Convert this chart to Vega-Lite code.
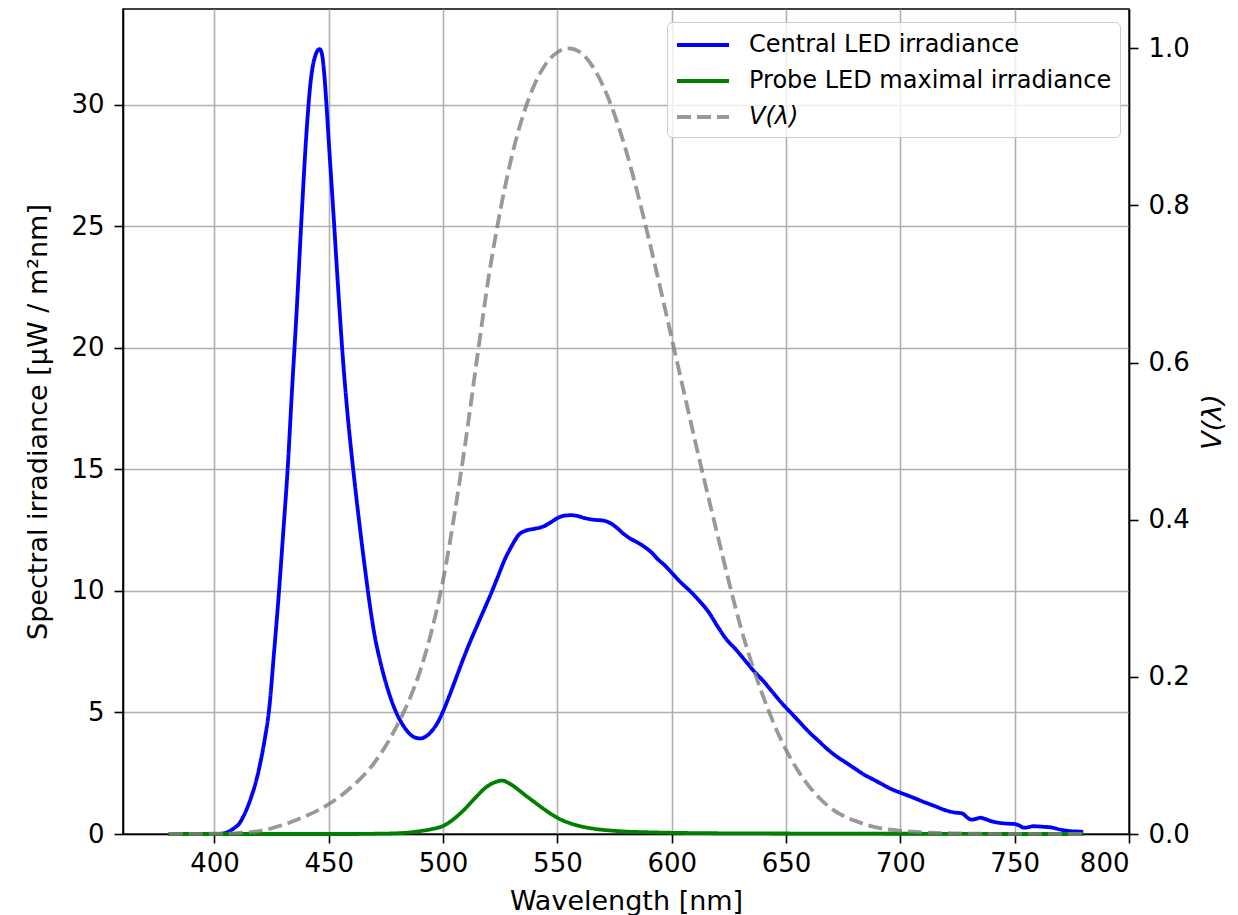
{
  "$schema": "https://vega.github.io/schema/vega-lite/v6.json",
  "width": 1006,
  "height": 825,
  "autosize": {"type": "none"},
  "padding": {"left": 123, "top": 9, "right": 109, "bottom": 81},
  "background": "white",
  "config": {
    "font": "DejaVu Sans",
    "view": {"stroke": "black", "strokeWidth": 1.6},
    "axis": {
      "domainColor": "black",
      "domainWidth": 1.6,
      "tickColor": "black",
      "tickWidth": 1.6,
      "tickSize": 9,
      "labelFontSize": 26,
      "labelColor": "black",
      "labelPadding": 7,
      "titleFontSize": 27,
      "titleFontWeight": "normal",
      "titleColor": "black",
      "gridColor": "#b0b0b0",
      "gridWidth": 1.6
    },
    "legend": {
      "orient": "none",
      "legendX": 544,
      "legendY": 13,
      "title": null,
      "symbolType": "M-1,0H3",
      "symbolSize": 676,
      "symbolStrokeWidth": 3.8,
      "labelFontSize": 24,
      "labelColor": "black",
      "labelOffset": 44,
      "rowPadding": 9,
      "padding": 8,
      "strokeColor": "#cccccc",
      "fillColor": "rgba(255,255,255,0.8)",
      "cornerRadius": 5,
      "labelLimit": 500
    }
  },
  "datasets": {
    "irr": [
      {"wavelength": 380, "value": 0.0, "series": "Central LED irradiance"},
      {"wavelength": 390, "value": 0.0, "series": "Central LED irradiance"},
      {"wavelength": 400, "value": 0.0, "series": "Central LED irradiance"},
      {"wavelength": 403, "value": 0.01, "series": "Central LED irradiance"},
      {"wavelength": 405, "value": 0.05, "series": "Central LED irradiance"},
      {"wavelength": 408, "value": 0.2, "series": "Central LED irradiance"},
      {"wavelength": 411, "value": 0.45, "series": "Central LED irradiance"},
      {"wavelength": 414, "value": 1.0, "series": "Central LED irradiance"},
      {"wavelength": 416, "value": 1.5, "series": "Central LED irradiance"},
      {"wavelength": 418, "value": 2.1, "series": "Central LED irradiance"},
      {"wavelength": 420, "value": 2.9, "series": "Central LED irradiance"},
      {"wavelength": 422, "value": 3.9, "series": "Central LED irradiance"},
      {"wavelength": 424, "value": 5.2, "series": "Central LED irradiance"},
      {"wavelength": 426, "value": 7.4, "series": "Central LED irradiance"},
      {"wavelength": 428, "value": 9.7, "series": "Central LED irradiance"},
      {"wavelength": 430, "value": 12.3, "series": "Central LED irradiance"},
      {"wavelength": 432, "value": 15.0, "series": "Central LED irradiance"},
      {"wavelength": 434, "value": 18.4, "series": "Central LED irradiance"},
      {"wavelength": 436, "value": 21.6, "series": "Central LED irradiance"},
      {"wavelength": 438, "value": 25.2, "series": "Central LED irradiance"},
      {"wavelength": 440, "value": 28.5, "series": "Central LED irradiance"},
      {"wavelength": 442, "value": 30.9, "series": "Central LED irradiance"},
      {"wavelength": 444, "value": 32.0, "series": "Central LED irradiance"},
      {"wavelength": 446, "value": 32.3, "series": "Central LED irradiance"},
      {"wavelength": 447, "value": 32.1, "series": "Central LED irradiance"},
      {"wavelength": 448, "value": 31.3, "series": "Central LED irradiance"},
      {"wavelength": 449, "value": 30.0, "series": "Central LED irradiance"},
      {"wavelength": 450, "value": 28.5, "series": "Central LED irradiance"},
      {"wavelength": 452, "value": 25.6, "series": "Central LED irradiance"},
      {"wavelength": 454, "value": 22.6, "series": "Central LED irradiance"},
      {"wavelength": 456, "value": 19.8, "series": "Central LED irradiance"},
      {"wavelength": 458, "value": 17.5, "series": "Central LED irradiance"},
      {"wavelength": 460, "value": 15.6, "series": "Central LED irradiance"},
      {"wavelength": 462, "value": 13.9, "series": "Central LED irradiance"},
      {"wavelength": 464, "value": 12.3, "series": "Central LED irradiance"},
      {"wavelength": 466, "value": 10.8, "series": "Central LED irradiance"},
      {"wavelength": 468, "value": 9.4, "series": "Central LED irradiance"},
      {"wavelength": 470, "value": 8.2, "series": "Central LED irradiance"},
      {"wavelength": 472, "value": 7.3, "series": "Central LED irradiance"},
      {"wavelength": 474, "value": 6.55, "series": "Central LED irradiance"},
      {"wavelength": 476, "value": 5.9, "series": "Central LED irradiance"},
      {"wavelength": 478, "value": 5.35, "series": "Central LED irradiance"},
      {"wavelength": 480, "value": 4.9, "series": "Central LED irradiance"},
      {"wavelength": 482, "value": 4.55, "series": "Central LED irradiance"},
      {"wavelength": 484, "value": 4.27, "series": "Central LED irradiance"},
      {"wavelength": 486, "value": 4.07, "series": "Central LED irradiance"},
      {"wavelength": 488, "value": 3.96, "series": "Central LED irradiance"},
      {"wavelength": 490, "value": 3.93, "series": "Central LED irradiance"},
      {"wavelength": 492, "value": 3.99, "series": "Central LED irradiance"},
      {"wavelength": 494, "value": 4.13, "series": "Central LED irradiance"},
      {"wavelength": 496, "value": 4.35, "series": "Central LED irradiance"},
      {"wavelength": 498, "value": 4.65, "series": "Central LED irradiance"},
      {"wavelength": 500, "value": 5.05, "series": "Central LED irradiance"},
      {"wavelength": 503, "value": 5.75, "series": "Central LED irradiance"},
      {"wavelength": 506, "value": 6.5, "series": "Central LED irradiance"},
      {"wavelength": 509, "value": 7.25, "series": "Central LED irradiance"},
      {"wavelength": 512, "value": 7.95, "series": "Central LED irradiance"},
      {"wavelength": 515, "value": 8.6, "series": "Central LED irradiance"},
      {"wavelength": 518, "value": 9.25, "series": "Central LED irradiance"},
      {"wavelength": 521, "value": 9.9, "series": "Central LED irradiance"},
      {"wavelength": 524, "value": 10.6, "series": "Central LED irradiance"},
      {"wavelength": 527, "value": 11.3, "series": "Central LED irradiance"},
      {"wavelength": 530, "value": 11.85, "series": "Central LED irradiance"},
      {"wavelength": 533, "value": 12.3, "series": "Central LED irradiance"},
      {"wavelength": 536, "value": 12.48, "series": "Central LED irradiance"},
      {"wavelength": 540, "value": 12.56, "series": "Central LED irradiance"},
      {"wavelength": 544, "value": 12.66, "series": "Central LED irradiance"},
      {"wavelength": 547, "value": 12.82, "series": "Central LED irradiance"},
      {"wavelength": 550, "value": 13.0, "series": "Central LED irradiance"},
      {"wavelength": 553, "value": 13.1, "series": "Central LED irradiance"},
      {"wavelength": 556, "value": 13.12, "series": "Central LED irradiance"},
      {"wavelength": 559, "value": 13.08, "series": "Central LED irradiance"},
      {"wavelength": 562, "value": 13.0, "series": "Central LED irradiance"},
      {"wavelength": 566, "value": 12.93, "series": "Central LED irradiance"},
      {"wavelength": 570, "value": 12.9, "series": "Central LED irradiance"},
      {"wavelength": 573, "value": 12.8, "series": "Central LED irradiance"},
      {"wavelength": 576, "value": 12.6, "series": "Central LED irradiance"},
      {"wavelength": 579, "value": 12.35, "series": "Central LED irradiance"},
      {"wavelength": 582, "value": 12.15, "series": "Central LED irradiance"},
      {"wavelength": 585, "value": 12.0, "series": "Central LED irradiance"},
      {"wavelength": 588, "value": 11.82, "series": "Central LED irradiance"},
      {"wavelength": 591, "value": 11.6, "series": "Central LED irradiance"},
      {"wavelength": 594, "value": 11.3, "series": "Central LED irradiance"},
      {"wavelength": 597, "value": 11.05, "series": "Central LED irradiance"},
      {"wavelength": 600, "value": 10.75, "series": "Central LED irradiance"},
      {"wavelength": 604, "value": 10.35, "series": "Central LED irradiance"},
      {"wavelength": 608, "value": 10.0, "series": "Central LED irradiance"},
      {"wavelength": 612, "value": 9.6, "series": "Central LED irradiance"},
      {"wavelength": 616, "value": 9.15, "series": "Central LED irradiance"},
      {"wavelength": 620, "value": 8.55, "series": "Central LED irradiance"},
      {"wavelength": 624, "value": 8.0, "series": "Central LED irradiance"},
      {"wavelength": 628, "value": 7.6, "series": "Central LED irradiance"},
      {"wavelength": 632, "value": 7.15, "series": "Central LED irradiance"},
      {"wavelength": 636, "value": 6.7, "series": "Central LED irradiance"},
      {"wavelength": 640, "value": 6.3, "series": "Central LED irradiance"},
      {"wavelength": 644, "value": 5.85, "series": "Central LED irradiance"},
      {"wavelength": 648, "value": 5.4, "series": "Central LED irradiance"},
      {"wavelength": 652, "value": 5.0, "series": "Central LED irradiance"},
      {"wavelength": 656, "value": 4.6, "series": "Central LED irradiance"},
      {"wavelength": 660, "value": 4.2, "series": "Central LED irradiance"},
      {"wavelength": 664, "value": 3.85, "series": "Central LED irradiance"},
      {"wavelength": 668, "value": 3.5, "series": "Central LED irradiance"},
      {"wavelength": 672, "value": 3.2, "series": "Central LED irradiance"},
      {"wavelength": 676, "value": 2.95, "series": "Central LED irradiance"},
      {"wavelength": 680, "value": 2.7, "series": "Central LED irradiance"},
      {"wavelength": 684, "value": 2.45, "series": "Central LED irradiance"},
      {"wavelength": 688, "value": 2.25, "series": "Central LED irradiance"},
      {"wavelength": 692, "value": 2.05, "series": "Central LED irradiance"},
      {"wavelength": 696, "value": 1.85, "series": "Central LED irradiance"},
      {"wavelength": 700, "value": 1.7, "series": "Central LED irradiance"},
      {"wavelength": 705, "value": 1.52, "series": "Central LED irradiance"},
      {"wavelength": 710, "value": 1.33, "series": "Central LED irradiance"},
      {"wavelength": 715, "value": 1.15, "series": "Central LED irradiance"},
      {"wavelength": 720, "value": 0.97, "series": "Central LED irradiance"},
      {"wavelength": 724, "value": 0.88, "series": "Central LED irradiance"},
      {"wavelength": 727, "value": 0.85, "series": "Central LED irradiance"},
      {"wavelength": 729, "value": 0.7, "series": "Central LED irradiance"},
      {"wavelength": 731, "value": 0.59, "series": "Central LED irradiance"},
      {"wavelength": 733, "value": 0.62, "series": "Central LED irradiance"},
      {"wavelength": 735, "value": 0.67, "series": "Central LED irradiance"},
      {"wavelength": 737, "value": 0.62, "series": "Central LED irradiance"},
      {"wavelength": 740, "value": 0.52, "series": "Central LED irradiance"},
      {"wavelength": 744, "value": 0.45, "series": "Central LED irradiance"},
      {"wavelength": 748, "value": 0.42, "series": "Central LED irradiance"},
      {"wavelength": 750, "value": 0.41, "series": "Central LED irradiance"},
      {"wavelength": 752, "value": 0.35, "series": "Central LED irradiance"},
      {"wavelength": 754, "value": 0.26, "series": "Central LED irradiance"},
      {"wavelength": 756, "value": 0.28, "series": "Central LED irradiance"},
      {"wavelength": 758, "value": 0.32, "series": "Central LED irradiance"},
      {"wavelength": 762, "value": 0.3, "series": "Central LED irradiance"},
      {"wavelength": 766, "value": 0.27, "series": "Central LED irradiance"},
      {"wavelength": 770, "value": 0.18, "series": "Central LED irradiance"},
      {"wavelength": 774, "value": 0.12, "series": "Central LED irradiance"},
      {"wavelength": 778, "value": 0.1, "series": "Central LED irradiance"},
      {"wavelength": 780, "value": 0.09, "series": "Central LED irradiance"},
      {"wavelength": 380, "value": 0.0, "series": "Probe LED maximal irradiance"},
      {"wavelength": 420, "value": 0.0, "series": "Probe LED maximal irradiance"},
      {"wavelength": 460, "value": 0.0, "series": "Probe LED maximal irradiance"},
      {"wavelength": 470, "value": 0.01, "series": "Probe LED maximal irradiance"},
      {"wavelength": 480, "value": 0.03, "series": "Probe LED maximal irradiance"},
      {"wavelength": 485, "value": 0.06, "series": "Probe LED maximal irradiance"},
      {"wavelength": 490, "value": 0.12, "series": "Probe LED maximal irradiance"},
      {"wavelength": 495, "value": 0.2, "series": "Probe LED maximal irradiance"},
      {"wavelength": 500, "value": 0.33, "series": "Probe LED maximal irradiance"},
      {"wavelength": 503, "value": 0.5, "series": "Probe LED maximal irradiance"},
      {"wavelength": 506, "value": 0.72, "series": "Probe LED maximal irradiance"},
      {"wavelength": 509, "value": 0.98, "series": "Probe LED maximal irradiance"},
      {"wavelength": 512, "value": 1.28, "series": "Probe LED maximal irradiance"},
      {"wavelength": 515, "value": 1.58, "series": "Probe LED maximal irradiance"},
      {"wavelength": 518, "value": 1.86, "series": "Probe LED maximal irradiance"},
      {"wavelength": 521, "value": 2.06, "series": "Probe LED maximal irradiance"},
      {"wavelength": 524, "value": 2.17, "series": "Probe LED maximal irradiance"},
      {"wavelength": 526, "value": 2.2, "series": "Probe LED maximal irradiance"},
      {"wavelength": 528, "value": 2.13, "series": "Probe LED maximal irradiance"},
      {"wavelength": 531, "value": 1.96, "series": "Probe LED maximal irradiance"},
      {"wavelength": 534, "value": 1.74, "series": "Probe LED maximal irradiance"},
      {"wavelength": 537, "value": 1.52, "series": "Probe LED maximal irradiance"},
      {"wavelength": 540, "value": 1.31, "series": "Probe LED maximal irradiance"},
      {"wavelength": 543, "value": 1.1, "series": "Probe LED maximal irradiance"},
      {"wavelength": 546, "value": 0.9, "series": "Probe LED maximal irradiance"},
      {"wavelength": 549, "value": 0.72, "series": "Probe LED maximal irradiance"},
      {"wavelength": 552, "value": 0.57, "series": "Probe LED maximal irradiance"},
      {"wavelength": 555, "value": 0.46, "series": "Probe LED maximal irradiance"},
      {"wavelength": 558, "value": 0.37, "series": "Probe LED maximal irradiance"},
      {"wavelength": 561, "value": 0.3, "series": "Probe LED maximal irradiance"},
      {"wavelength": 565, "value": 0.23, "series": "Probe LED maximal irradiance"},
      {"wavelength": 570, "value": 0.17, "series": "Probe LED maximal irradiance"},
      {"wavelength": 575, "value": 0.13, "series": "Probe LED maximal irradiance"},
      {"wavelength": 580, "value": 0.1, "series": "Probe LED maximal irradiance"},
      {"wavelength": 590, "value": 0.07, "series": "Probe LED maximal irradiance"},
      {"wavelength": 600, "value": 0.05, "series": "Probe LED maximal irradiance"},
      {"wavelength": 620, "value": 0.03, "series": "Probe LED maximal irradiance"},
      {"wavelength": 650, "value": 0.02, "series": "Probe LED maximal irradiance"},
      {"wavelength": 700, "value": 0.01, "series": "Probe LED maximal irradiance"},
      {"wavelength": 750, "value": 0.0, "series": "Probe LED maximal irradiance"},
      {"wavelength": 780, "value": 0.0, "series": "Probe LED maximal irradiance"}
    ],
    "vlambda": [
      {"wavelength": 380, "V": 0.000039, "series": "V(λ)"},
      {"wavelength": 385, "V": 0.000064, "series": "V(λ)"},
      {"wavelength": 390, "V": 0.00012, "series": "V(λ)"},
      {"wavelength": 395, "V": 0.000217, "series": "V(λ)"},
      {"wavelength": 400, "V": 0.000396, "series": "V(λ)"},
      {"wavelength": 405, "V": 0.00064, "series": "V(λ)"},
      {"wavelength": 410, "V": 0.00121, "series": "V(λ)"},
      {"wavelength": 415, "V": 0.00218, "series": "V(λ)"},
      {"wavelength": 420, "V": 0.004, "series": "V(λ)"},
      {"wavelength": 425, "V": 0.0073, "series": "V(λ)"},
      {"wavelength": 430, "V": 0.0116, "series": "V(λ)"},
      {"wavelength": 435, "V": 0.01684, "series": "V(λ)"},
      {"wavelength": 440, "V": 0.023, "series": "V(λ)"},
      {"wavelength": 445, "V": 0.0298, "series": "V(λ)"},
      {"wavelength": 450, "V": 0.038, "series": "V(λ)"},
      {"wavelength": 455, "V": 0.048, "series": "V(λ)"},
      {"wavelength": 460, "V": 0.06, "series": "V(λ)"},
      {"wavelength": 465, "V": 0.0739, "series": "V(λ)"},
      {"wavelength": 470, "V": 0.09098, "series": "V(λ)"},
      {"wavelength": 475, "V": 0.1126, "series": "V(λ)"},
      {"wavelength": 480, "V": 0.13902, "series": "V(λ)"},
      {"wavelength": 485, "V": 0.1693, "series": "V(λ)"},
      {"wavelength": 490, "V": 0.20802, "series": "V(λ)"},
      {"wavelength": 495, "V": 0.2586, "series": "V(λ)"},
      {"wavelength": 500, "V": 0.323, "series": "V(λ)"},
      {"wavelength": 505, "V": 0.4073, "series": "V(λ)"},
      {"wavelength": 510, "V": 0.503, "series": "V(λ)"},
      {"wavelength": 515, "V": 0.6082, "series": "V(λ)"},
      {"wavelength": 520, "V": 0.71, "series": "V(λ)"},
      {"wavelength": 525, "V": 0.7932, "series": "V(λ)"},
      {"wavelength": 530, "V": 0.862, "series": "V(λ)"},
      {"wavelength": 535, "V": 0.91485, "series": "V(λ)"},
      {"wavelength": 540, "V": 0.954, "series": "V(λ)"},
      {"wavelength": 545, "V": 0.9803, "series": "V(λ)"},
      {"wavelength": 550, "V": 0.99495, "series": "V(λ)"},
      {"wavelength": 555, "V": 1.0, "series": "V(λ)"},
      {"wavelength": 560, "V": 0.995, "series": "V(λ)"},
      {"wavelength": 565, "V": 0.9786, "series": "V(λ)"},
      {"wavelength": 570, "V": 0.952, "series": "V(λ)"},
      {"wavelength": 575, "V": 0.9154, "series": "V(λ)"},
      {"wavelength": 580, "V": 0.87, "series": "V(λ)"},
      {"wavelength": 585, "V": 0.8163, "series": "V(λ)"},
      {"wavelength": 590, "V": 0.757, "series": "V(λ)"},
      {"wavelength": 595, "V": 0.6949, "series": "V(λ)"},
      {"wavelength": 600, "V": 0.631, "series": "V(λ)"},
      {"wavelength": 605, "V": 0.5668, "series": "V(λ)"},
      {"wavelength": 610, "V": 0.503, "series": "V(λ)"},
      {"wavelength": 615, "V": 0.4412, "series": "V(λ)"},
      {"wavelength": 620, "V": 0.381, "series": "V(λ)"},
      {"wavelength": 625, "V": 0.321, "series": "V(λ)"},
      {"wavelength": 630, "V": 0.265, "series": "V(λ)"},
      {"wavelength": 635, "V": 0.217, "series": "V(λ)"},
      {"wavelength": 640, "V": 0.175, "series": "V(λ)"},
      {"wavelength": 645, "V": 0.1382, "series": "V(λ)"},
      {"wavelength": 650, "V": 0.107, "series": "V(λ)"},
      {"wavelength": 655, "V": 0.0816, "series": "V(λ)"},
      {"wavelength": 660, "V": 0.061, "series": "V(λ)"},
      {"wavelength": 665, "V": 0.04458, "series": "V(λ)"},
      {"wavelength": 670, "V": 0.032, "series": "V(λ)"},
      {"wavelength": 675, "V": 0.0232, "series": "V(λ)"},
      {"wavelength": 680, "V": 0.017, "series": "V(λ)"},
      {"wavelength": 685, "V": 0.01192, "series": "V(λ)"},
      {"wavelength": 690, "V": 0.00821, "series": "V(λ)"},
      {"wavelength": 695, "V": 0.005723, "series": "V(λ)"},
      {"wavelength": 700, "V": 0.0041, "series": "V(λ)"},
      {"wavelength": 705, "V": 0.002929, "series": "V(λ)"},
      {"wavelength": 710, "V": 0.002091, "series": "V(λ)"},
      {"wavelength": 715, "V": 0.001484, "series": "V(λ)"},
      {"wavelength": 720, "V": 0.001047, "series": "V(λ)"},
      {"wavelength": 725, "V": 0.00074, "series": "V(λ)"},
      {"wavelength": 730, "V": 0.00052, "series": "V(λ)"},
      {"wavelength": 735, "V": 0.000361, "series": "V(λ)"},
      {"wavelength": 740, "V": 0.000249, "series": "V(λ)"},
      {"wavelength": 745, "V": 0.000172, "series": "V(λ)"},
      {"wavelength": 750, "V": 0.00012, "series": "V(λ)"},
      {"wavelength": 755, "V": 0.000085, "series": "V(λ)"},
      {"wavelength": 760, "V": 0.00006, "series": "V(λ)"},
      {"wavelength": 765, "V": 0.000042, "series": "V(λ)"},
      {"wavelength": 770, "V": 0.00003, "series": "V(λ)"},
      {"wavelength": 775, "V": 0.000021, "series": "V(λ)"},
      {"wavelength": 780, "V": 0.000015, "series": "V(λ)"}
    ]
  },
  "layer": [
    {
      "data": {"name": "irr"},
      "mark": {"type": "line", "strokeWidth": 3.8, "interpolate": "monotone"},
      "encoding": {
        "x": {
          "field": "wavelength", "type": "quantitative",
          "scale": {"domain": [360, 800], "nice": false, "zero": false},
          "axis": {"title": "Wavelength [nm]", "values": [400, 450, 500, 550, 600, 650, 700, 750, 800], "grid": true, "titlePadding": 12}
        },
        "y": {
          "field": "value", "type": "quantitative",
          "scale": {"domain": [0, 33.95], "nice": false},
          "axis": {"title": "Spectral irradiance [μW / m²nm]", "values": [0, 5, 10, 15, 20, 25, 30], "grid": true, "labelPadding": 10, "titlePadding": 18}
        },
        "color": {
          "field": "series", "type": "nominal",
          "scale": {"domain": ["Central LED irradiance", "Probe LED maximal irradiance", "V(λ)"], "range": ["#0000ff", "#008000", "rgba(128,128,128,0.8)"]},
          "legend": {
            "encode": {
              "labels": {"update": {"fontStyle": {"signal": "datum.label == 'V(λ)' ? 'italic' : 'normal'"}}}
            }
          }
        },
        "strokeDash": {
          "field": "series", "type": "nominal",
          "scale": {"domain": ["Central LED irradiance", "Probe LED maximal irradiance", "V(λ)"], "range": [[1, 0], [1, 0], [14, 6]]}
        }
      }
    },
    {
      "data": {"name": "vlambda"},
      "mark": {"type": "line", "strokeWidth": 3.8, "interpolate": "monotone"},
      "encoding": {
        "x": {"field": "wavelength", "type": "quantitative"},
        "y": {
          "field": "V", "type": "quantitative",
          "scale": {"domain": [0, 1.05], "nice": false},
          "axis": {"orient": "right", "title": "V(λ)", "titleFontStyle": "italic", "titleAngle": 270, "values": [0, 0.2, 0.4, 0.6, 0.8, 1.0], "format": ".1f", "grid": false, "labelPadding": 10, "titlePadding": 37}
        },
        "color": {"field": "series", "type": "nominal"},
        "strokeDash": {"field": "series", "type": "nominal"}
      }
    }
  ],
  "resolve": {"scale": {"y": "independent"}}
}
